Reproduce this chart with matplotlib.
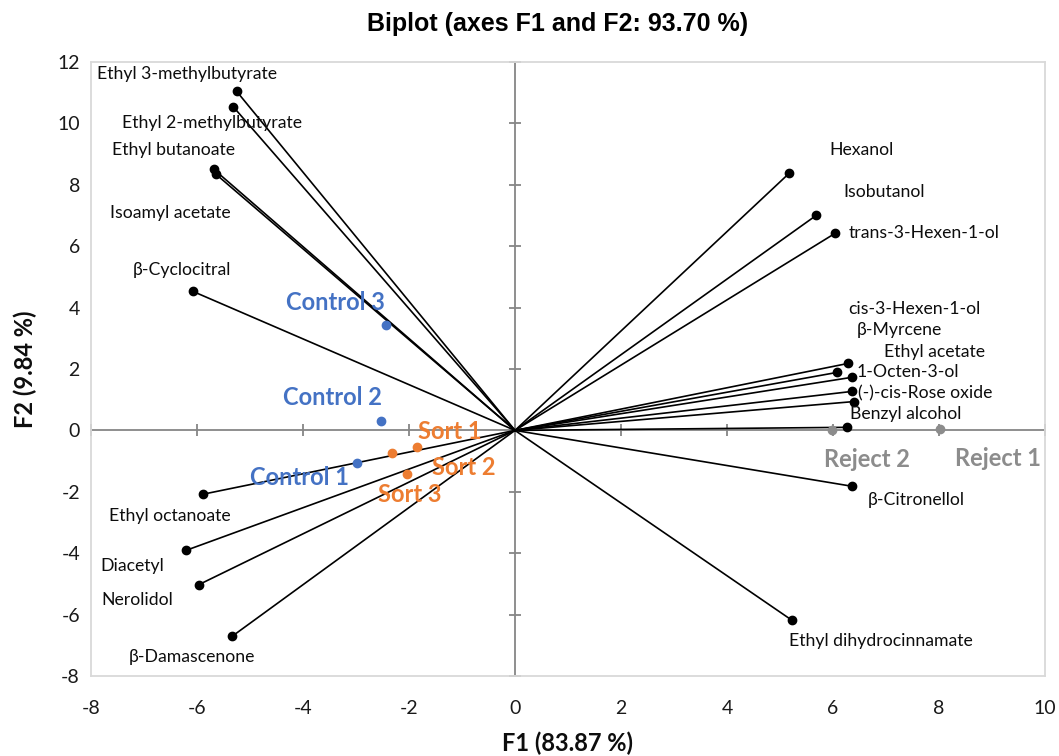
import matplotlib
matplotlib.use('Agg')
import matplotlib.pyplot as plt
from matplotlib import font_manager

# ---------------- data ----------------
variables = ['Ethyl 3-methylbutyrate', 'Ethyl 2-methylbutyrate', 'Ethyl butanoate',
             'Isoamyl acetate', 'β-Cyclocitral', 'Ethyl octanoate', 'Diacetyl',
             'Nerolidol', 'β-Damascenone', 'Hexanol', 'Isobutanol', 'trans-3-Hexen-1-ol',
             'cis-3-Hexen-1-ol', 'β-Myrcene', 'Ethyl acetate', '1-Octen-3-ol',
             '(-)-cis-Rose oxide', 'Benzyl alcohol', 'β-Citronellol',
             'Ethyl dihydrocinnamate']
var_f1 = [-5.25, -5.32, -5.68, -5.64, -6.08, -5.89, -6.21, -5.96, -5.34, 5.17,
          5.68, 6.04, 6.28, 6.08, 6.36, 6.36, 6.40, 6.26, 6.36, 5.23]
var_f2 = [11.04, 10.55, 8.50, 8.34, 4.53, -2.08, -3.91, -5.02, -6.71, 8.37,
          7.00, 6.42, 2.18, 1.89, 1.73, 1.27, 0.94, 0.10, -1.82, -6.19]

observations = ['Control 1', 'Control 2', 'Control 3', 'Sort 1', 'Sort 2', 'Sort 3',
                'Reject 1', 'Reject 2']
obs_f1 = [-2.99, -2.52, -2.43, -1.84, -2.03, -2.32, 8.02, 5.98]
obs_f2 = [-1.05, 0.29, 3.42, -0.54, -1.42, -0.75, 0.05, 0.00]
obs_group = ['Control', 'Control', 'Control', 'Sort', 'Sort', 'Sort', 'Reject', 'Reject']

x_ticks = [-8, -6, -4, -2, 0, 2, 4, 6, 8, 10]
y_ticks = [-8, -6, -4, -2, 0, 2, 4, 6, 8, 10, 12]

title = 'Biplot (axes F1 and F2: 93.70 %)'
xlabel = 'F1 (83.87 %)'
ylabel = 'F2 (9.84 %)'

# ---------------- layout (label anchors) ----------------
var_label_pos = [(-6.19, 11.60, 'center'), (-5.72, 10.00, 'center'), (-6.45, 9.12, 'center'),
                 (-6.51, 7.07, 'center'), (-6.28, 5.24, 'center'), (-6.51, -2.80, 'center'),
                 (-7.23, -4.43, 'center'), (-7.13, -5.54, 'center'), (-6.09, -7.39, 'center'),
                 (6.53, 9.12, 'center'), (6.96, 7.78, 'center'), (6.30, 6.42, 'left'),
                 (7.53, 3.97, 'center'), (7.26, 3.26, 'center'), (7.91, 2.57, 'center'),
                 (6.45, 1.89, 'left'), (6.47, 1.21, 'left'), (6.32, 0.52, 'left'),
                 (7.57, -2.28, 'center'), (6.91, -6.87, 'center')]
obs_label_pos = [(-4.06, -1.53), (-3.45, 1.07), (-3.38, 4.17), (-1.23, -0.03),
                 (-0.96, -1.21), (-1.98, -2.08), (9.11, -0.91), (6.64, -0.94)]
group_colors = {'Control': '#4472C4', 'Sort': '#ED7D31', 'Reject': '#8C8C8C'}

names = {f.name for f in font_manager.fontManager.ttflist}
body_font = ['Lato', 'DejaVu Sans']
title_font = ['Liberation Sans Narrow', 'Liberation Sans', 'DejaVu Sans'] \
    if 'Liberation Sans Narrow' in names else ['Liberation Sans', 'DejaVu Sans']

plt.rcParams['axes.unicode_minus'] = False
plt.rcParams['font.family'] = body_font

fig = plt.figure(figsize=(10.59, 7.56), dpi=100)
pos = [91 / 1059, 1 - 676 / 756, (1045 - 91) / 1059, (676 - 62) / 756]

# background axes carrying zero-crossing axis lines with ticks
axz = fig.add_axes(pos)
axz.set_zorder(0)
axz.set_xlim(-8, 10)
axz.set_ylim(-8, 12)
for s in ['top', 'right']:
    axz.spines[s].set_visible(False)
axz.spines['left'].set_position(('data', 0))
axz.spines['bottom'].set_position(('data', 0))
for s in ['left', 'bottom']:
    axz.spines[s].set_color('#868686')
    axz.spines[s].set_linewidth(1.3)
axz.set_xticks(x_ticks)
axz.set_yticks(y_ticks)
axz.tick_params(direction='inout', length=8, width=1.3, color='#868686',
                labelbottom=False, labelleft=False)

ax = fig.add_axes(pos)
ax.set_zorder(1)
ax.patch.set_visible(False)
ax.set_xlim(-8, 10)
ax.set_ylim(-8, 12)
for s in ax.spines.values():
    s.set_color('#d9d9d9')
    s.set_linewidth(1.3)
ax.set_xticks(x_ticks)
ax.set_yticks(y_ticks)
ax.tick_params(length=0, labelsize=14, colors='#1a1a1a')
ax.tick_params(axis='x', pad=17)
ax.tick_params(axis='y', pad=8)

# variable vectors
for name, x, y, (lx, ly, ha) in zip(variables, var_f1, var_f2, var_label_pos):
    ax.plot([0, x], [0, y], color='black', lw=1.2, zorder=3)
    ax.plot([x], [y], 'o', color='black', ms=6, zorder=4)
    ax.text(lx, ly, name, ha=ha, va='center', fontsize=12.7, color='#0d0d0d', zorder=5)

# observations
for name, x, y, g, (lx, ly) in zip(observations, obs_f1, obs_f2, obs_group, obs_label_pos):
    c = group_colors[g]
    ax.plot([x], [y], 'o', color=c, ms=6, zorder=6)
    ax.text(lx, ly, name, ha='center', va='center', fontsize=17, fontweight='bold',
            color=c, zorder=7)

fig.text(558 / 1059, 1 - 24 / 756, title, ha='center', va='center', fontsize=18,
         fontweight='bold', family=title_font, color='black')
fig.text(568 / 1059, 1 - 743 / 756, xlabel, ha='center', va='center', fontsize=17,
         fontweight='bold', color='#0d0d0d')
fig.text(25 / 1059, 1 - 369 / 756, ylabel, ha='center', va='center', fontsize=17,
         fontweight='bold', rotation=90, color='#0d0d0d')

fig.savefig('out.png', dpi=100, facecolor='white')
